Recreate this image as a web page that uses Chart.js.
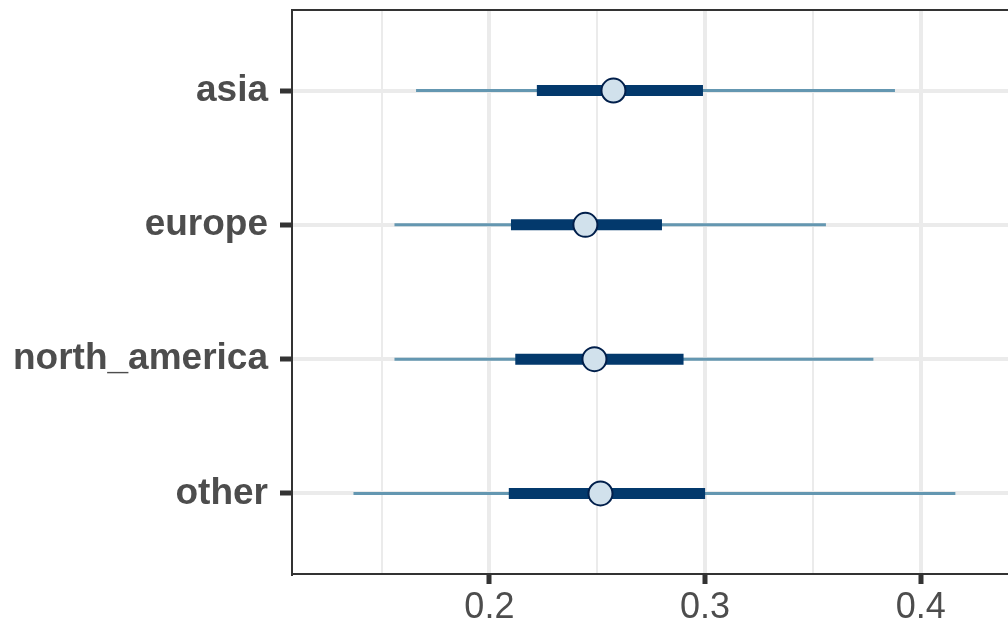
<!DOCTYPE html>
<html>
<head>
<meta charset="utf-8">
<script src="https://cdn.jsdelivr.net/npm/chart.js@4"></script>
<style>
  body { margin: 0; background: #fff; }
</style>
</head>
<body>
<canvas id="chart" width="1008" height="630"></canvas>
<script>
// interval data
const categories = ['asia', 'europe', 'north_america', 'other'];
const outerLow  = [0.166, 0.156, 0.156, 0.137];
const outerHigh = [0.388, 0.356, 0.378, 0.416];
const innerLow  = [0.222, 0.210, 0.212, 0.209];
const innerHigh = [0.299, 0.280, 0.290, 0.300];
const medians   = [0.2575, 0.2445, 0.2487, 0.2515];
const xTicks = [0.15, 0.2, 0.25, 0.3, 0.35, 0.4];

const isMajor = v => Math.abs(v * 10 - Math.round(v * 10)) < 1e-6;

const datasets = [];
categories.forEach((c, i) => {
    datasets.push({
        data: [{x: outerLow[i], y: i}, {x: outerHigh[i], y: i}],
        showLine: true, borderColor: '#6497b1', borderWidth: 3,
        borderCapStyle: 'butt', pointRadius: 0, order: 3
    });
    datasets.push({
        data: [{x: innerLow[i], y: i}, {x: innerHigh[i], y: i}],
        showLine: true, borderColor: '#03396c', borderWidth: 11,
        borderCapStyle: 'butt', pointRadius: 0, order: 2
    });
});
datasets.push({
    data: categories.map((c, i) => ({x: medians[i], y: i})),
    showLine: false, pointRadius: 12, pointBorderWidth: 2,
    pointBackgroundColor: '#d1e1ec', pointBorderColor: '#011f4b', order: 1
});

// top edge of the panel
const topBorder = {
    id: 'topBorder',
    afterDatasetsDraw(chart) {
        const {ctx, chartArea} = chart;
        ctx.save();
        ctx.strokeStyle = '#333333';
        ctx.lineWidth = 2;
        ctx.beginPath();
        ctx.moveTo(chartArea.left - 1, chartArea.top);
        ctx.lineTo(chartArea.right, chartArea.top);
        ctx.stroke();
        ctx.restore();
    }
};

new Chart(document.getElementById('chart'), {
    type: 'scatter',
    data: { datasets },
    plugins: [topBorder],
    options: {
        responsive: false,
        animation: false,
        layout: { autoPadding: false, padding: { top: 10, right: 0, left: 0, bottom: 0 } },
        plugins: { legend: { display: false }, tooltip: { enabled: false } },
        scales: {
            x: {
                type: 'linear',
                min: 0.1085,
                max: 0.4404,
                afterBuildTicks: s => { s.ticks = xTicks.map(v => ({value: v})); },
                afterFit: s => { s.height = 56; s.paddingLeft = 0; s.paddingRight = 0; },
                border: { color: '#333333', width: 2 },
                grid: {
                    color: '#ebebeb',
                    lineWidth: c => isMajor(c.tick.value) ? 4 : 2,
                    tickColor: c => isMajor(c.tick.value) ? '#333333' : 'rgba(0,0,0,0)',
                    tickWidth: 5,
                    tickLength: 10
                },
                ticks: {
                    autoSkip: false,
                    maxRotation: 0,
                    padding: 2,
                    color: '#4d4d4d',
                    font: { family: '"Liberation Sans", Arial, sans-serif', size: 36 },
                    callback: v => isMajor(v) ? v.toFixed(1) : ''
                }
            },
            y: {
                type: 'linear',
                min: -0.6,
                max: 3.6,
                reverse: true,
                afterBuildTicks: s => { s.ticks = categories.map((c, i) => ({value: i})); },
                afterFit: s => { s.width = 292; s.paddingTop = 0; s.paddingBottom = 0; },
                border: { color: '#333333', width: 2 },
                grid: {
                    color: '#ebebeb',
                    lineWidth: 4,
                    tickColor: '#333333',
                    tickWidth: 5,
                    tickLength: 12
                },
                ticks: {
                    autoSkip: false,
                    padding: 12,
                    color: '#4d4d4d',
                    font: { family: '"Liberation Sans", Arial, sans-serif', size: 37, weight: 'bold' },
                    callback: v => categories[v]
                }
            }
        }
    }
});
</script>
</body>
</html>
